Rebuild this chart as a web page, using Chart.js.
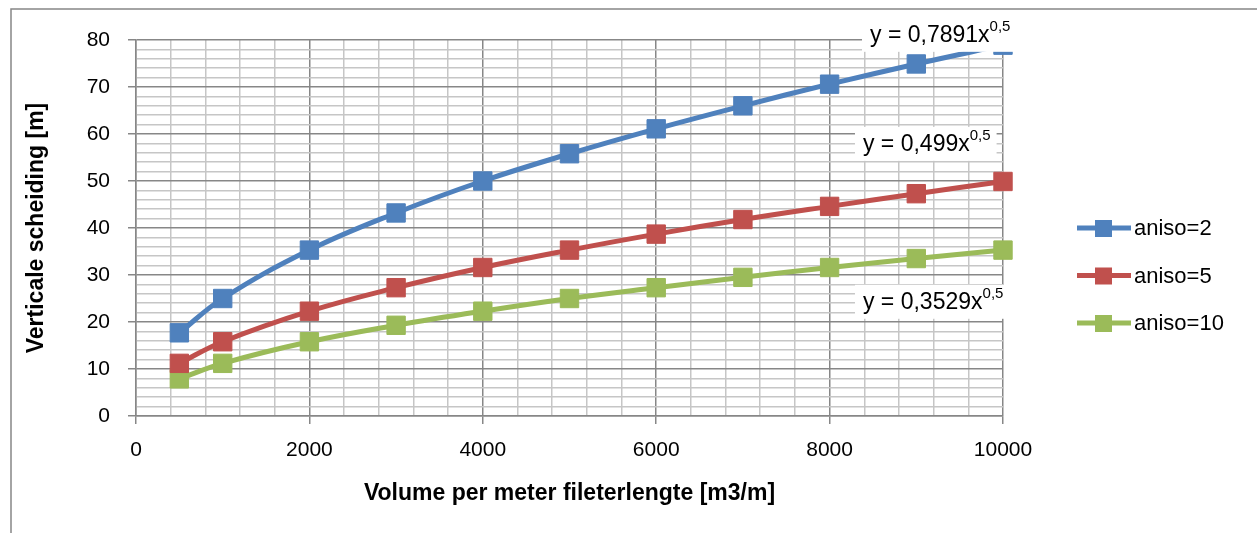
<!doctype html>
<html lang="nl">
<head>
  <meta charset="utf-8">
  <style>
    html, body { margin: 0; padding: 0; background: #fff; }
    canvas { display: block; }
  </style>
</head>
<body>
<canvas id="chart" width="1257" height="533"></canvas>
<script src="https://cdn.jsdelivr.net/npm/chart.js@4/dist/chart.umd.min.js"></script>
<script>
  // gegevens
  const volumes = [500, 1000, 2000, 3000, 4000, 5000, 6000, 7000, 8000, 9000, 10000];
  const aniso2 = [17.7, 25.0, 35.3, 43.2, 50.0, 55.8, 61.1, 66.0, 70.6, 74.9, 78.9];
  const aniso5 = [11.2, 15.8, 22.3, 27.3, 31.6, 35.3, 38.7, 41.8, 44.6, 47.3, 49.9];
  const aniso10 = [7.9, 11.2, 15.8, 19.3, 22.3, 25.0, 27.3, 29.5, 31.6, 33.5, 35.3];
  const seriesNames = ['aniso=2', 'aniso=5', 'aniso=10'];
  const seriesColors = ['#4F81BD', '#C0504D', '#9BBB59'];
  // trendlijn-vergelijkingen (tekst, superscript, plaats in data-eenheden)
  const trendTexts = ['y = 0,7891x', 'y = 0,499x', 'y = 0,3529x'];
  const trendSup = ['0,5', '0,5', '0,5'];
  const trendAt = [[8466, 81.1], [8385, 57.9], [8385, 24.3]];

  const FONT = '"Liberation Sans", Arial, sans-serif';
  const MAJOR = '#878787';
  const MINOR = '#c6c6c6';

  function pts(ys) {
    return volumes.map((v, i) => ({x: v, y: ys[i]}));
  }

  const sets = [aniso2, aniso5, aniso10].map((ys, i) => ({
    label: seriesNames[i],
    data: pts(ys),
    showLine: true,
    borderColor: seriesColors[i],
    backgroundColor: seriesColors[i],
    borderWidth: 5,
    tension: 0.4,
    pointStyle: 'rect',
    pointRadius: 13,
    pointHoverRadius: 13,
    pointBorderWidth: 1,
    pointBorderColor: seriesColors[i],
    clip: false
  }));

  // kader om de hele grafiek
  const frame = {
    id: 'frame',
    beforeDraw(chart) {
      const ctx = chart.ctx;
      ctx.save();
      ctx.strokeStyle = MAJOR;
      ctx.lineWidth = 1.5;
      ctx.strokeRect(11, 9, 1400, 700);
      ctx.restore();
    }
  };

  // trendlijnlabels met witte achtergrond
  const trendLabels = {
    id: 'trendLabels',
    afterDatasetsDraw(chart) {
      const ctx = chart.ctx;
      const sx = chart.scales.x, sy = chart.scales.y;
      ctx.save();
      trendTexts.forEach((t, i) => {
        const px = sx.getPixelForValue(trendAt[i][0]);
        const py = sy.getPixelForValue(trendAt[i][1]);
        ctx.font = '23px ' + FONT;
        const w1 = ctx.measureText(t).width;
        ctx.font = '15px ' + FONT;
        const w2 = ctx.measureText(trendSup[i]).width;
        ctx.fillStyle = '#fff';
        ctx.fillRect(px - 8, py - 17, w1 + w2 + 14, 34);
        ctx.fillStyle = '#000';
        ctx.textBaseline = 'middle';
        ctx.font = '23px ' + FONT;
        ctx.fillText(t, px, py + 1);
        ctx.font = '15px ' + FONT;
        ctx.fillText(trendSup[i], px + w1, py - 8);
      });
      ctx.restore();
    }
  };

  // legenda rechts, lijn met vierkant
  const sideLegend = {
    id: 'sideLegend',
    afterDraw(chart) {
      const ctx = chart.ctx;
      ctx.save();
      seriesNames.forEach((name, i) => {
        const y = 228 + i * 47.5;
        ctx.strokeStyle = seriesColors[i];
        ctx.lineWidth = 5;
        ctx.beginPath();
        ctx.moveTo(1077, y);
        ctx.lineTo(1131, y);
        ctx.stroke();
        ctx.fillStyle = seriesColors[i];
        ctx.fillRect(1095, y - 8, 17, 17);
        ctx.fillStyle = '#000';
        ctx.font = '22px ' + FONT;
        ctx.textBaseline = 'middle';
        ctx.fillText(name, 1134, y + 1);
      });
      ctx.restore();
    }
  };

  new Chart(document.getElementById('chart').getContext('2d'), {
    type: 'scatter',
    data: {datasets: sets},
    options: {
      responsive: false,
      animation: false,
      layout: {padding: {left: 0, top: 40, right: 254, bottom: 0}},
      plugins: {
        legend: {display: false},
        tooltip: {enabled: false}
      },
      scales: {
        x: {
          type: 'linear',
          min: 0,
          max: 10000,
          afterFit(scale) { scale.height = 117; },
          border: {color: MAJOR, width: 1.5},
          grid: {
            color: c => c.tick && c.tick.value % 2000 === 0 ? MAJOR : MINOR,
            tickColor: c => c.tick && c.tick.value % 2000 === 0 ? MAJOR : 'rgba(0,0,0,0)',
            tickLength: 8,
            lineWidth: 1.5
          },
          ticks: {
            stepSize: 400,
            autoSkip: false,
            maxRotation: 0,
            padding: 14,
            color: '#000',
            font: {family: FONT, size: 21},
            callback: v => v % 2000 === 0 ? String(v) : ''
          },
          title: {
            display: true,
            text: 'Volume per meter fileterlengte [m3/m]',
            color: '#000',
            font: {family: FONT, size: 23, weight: 'bold'},
            padding: {top: 0, bottom: 26}
          }
        },
        y: {
          min: 0,
          max: 80,
          afterFit(scale) { scale.width = 136; },
          border: {color: MAJOR, width: 1.5},
          grid: {
            color: c => c.tick && c.tick.value % 10 === 0 ? MAJOR : MINOR,
            tickColor: c => c.tick && c.tick.value % 10 === 0 ? MAJOR : 'rgba(0,0,0,0)',
            tickLength: 8,
            lineWidth: 1.5
          },
          ticks: {
            stepSize: 2,
            autoSkip: false,
            padding: 18,
            color: '#000',
            font: {family: FONT, size: 21},
            callback: v => v % 10 === 0 ? String(v) : ''
          },
          title: {
            display: true,
            text: 'Verticale scheiding [m]',
            color: '#000',
            font: {family: FONT, size: 23, weight: 'bold'},
            padding: {top: 23, bottom: 0}
          }
        }
      }
    },
    plugins: [frame, trendLabels, sideLegend]
  });
</script>
</body>
</html>
